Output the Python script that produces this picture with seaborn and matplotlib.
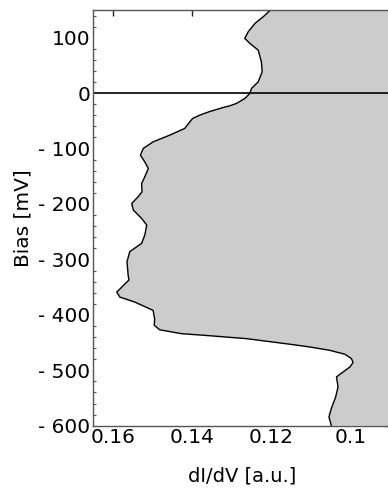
import matplotlib
matplotlib.use("Agg")
import matplotlib.pyplot as plt
from matplotlib.ticker import MultipleLocator, FuncFormatter, FixedLocator
import seaborn as sns
import pandas as pd

# dI/dV spectrum versus sample bias
bias_mV = [150, 138, 126, 111, 98.7, 89.7, 77.6, 56.5, 38.5, 20.4, 8.5, -0.5,
           -9.6, -18.6, -22.9, -25.8, -33, -39.7, -45.7, -51.8, -63.7, -75.8,
           -87.9, -99.8, -111.9, -124, -136, -151, -163, -178, -187, -199,
           -211, -226, -238, -256, -271, -286, -304, -329, -337, -359, -368,
           -377, -392, -407, -419, -427, -434, -437, -443, -453, -458, -464,
           -471, -479, -486, -494, -503, -512, -530, -548, -569, -584, -600]
didv_au = [0.1202, 0.1220, 0.1241, 0.1258, 0.1267, 0.1254, 0.1233, 0.1225,
           0.1223, 0.1233, 0.1250, 0.1254, 0.1267, 0.1288, 0.1305, 0.1321,
           0.1355, 0.1381, 0.1399, 0.1406, 0.1419, 0.1457, 0.1499, 0.1524,
           0.1531, 0.1520, 0.1511, 0.1520, 0.1528, 0.1527, 0.1537, 0.1553,
           0.1549, 0.1528, 0.1515, 0.1520, 0.1528, 0.1558, 0.1565, 0.1562,
           0.1560, 0.1591, 0.1583, 0.1545, 0.1499, 0.1495, 0.1496, 0.1482,
           0.1427, 0.1368, 0.1262, 0.1153, 0.1102, 0.1052, 0.1014, 0.0997,
           0.0993, 0.1001, 0.1018, 0.1035, 0.1031, 0.1037, 0.1048, 0.1054,
           0.1048]

x_ticks = [0.16, 0.14, 0.12, 0.10]
x_tick_labels = ["0.16", "0.14", "0.12", "0.1"]
y_ticks = [100, 0, -100, -200, -300, -400, -500, -600]

df = pd.DataFrame({"bias": bias_mV, "didv": didv_au})

sns.set_style("white")
plt.rcParams["font.family"] = ["DejaVu Sans"]
plt.rcParams["text.color"] = "black"
plt.rcParams["axes.labelcolor"] = "black"
plt.rcParams["xtick.color"] = "black"
plt.rcParams["ytick.color"] = "black"

fig = plt.figure(figsize=(3.88, 4.90), dpi=100)
ax = fig.add_axes([93 / 388, 1 - 425.7 / 490, (391 - 93) / 388, (425.7 - 10) / 490])

x_left, x_right = 0.1651, 0.0897
ax.fill_betweenx(df["bias"], df["didv"], 0.05, color="#cccccc", lw=0, zorder=1)
sns.lineplot(data=df, x="didv", y="bias", orient="y", sort=False,
             color="black", lw=1.0, ax=ax, zorder=3)
ax.axhline(0, color="black", lw=1.2, zorder=4)

ax.set_xlim(x_left, x_right)
ax.set_ylim(-600, 150)

ax.xaxis.set_major_locator(FixedLocator(x_ticks))
ax.set_xticklabels(x_tick_labels)
ax.yaxis.set_major_locator(FixedLocator(y_ticks))
ax.yaxis.set_minor_locator(MultipleLocator(20))
ax.yaxis.set_major_formatter(
    FuncFormatter(lambda v, p: f"- {abs(int(v))}" if v < 0 else f"{int(v)}"))

ax.tick_params(axis="both", which="major", direction="in", length=4, width=1,
               color="#222222", labelcolor="black", labelsize=14.5,
               top=True, right=True, pad=2)
ax.tick_params(axis="y", which="minor", direction="in", length=2, width=0.8,
               color="#555555", left=True, right=True)
for s in ax.spines.values():
    s.set_color("#555555")
    s.set_linewidth(1.0)
    s.set_zorder(5)

ax.set_xlabel("dI/dV [a.u.]", fontsize=14, labelpad=14)
ax.set_ylabel("Bias [mV]", fontsize=14.5, labelpad=4)

fig.savefig("out.png", dpi=100)
